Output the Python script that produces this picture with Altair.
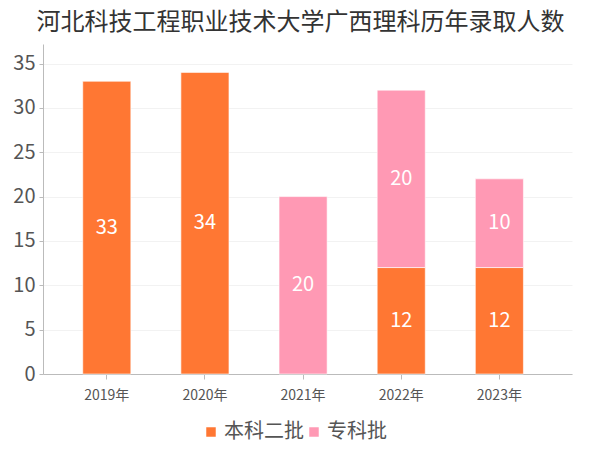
import altair as alt
import pandas as pd

years = ["2019年", "2020年", "2021年", "2022年", "2023年"]
series = ["本科二批", "专科批"]
benke = [33, 34, None, 12, 12]
zhuanke = [None, None, 20, 20, 10]

rows = []
for i, y in enumerate(years):
    for s_i, (name, vals) in enumerate(zip(series, [benke, zhuanke])):
        v = vals[i]
        if v is not None:
            rows.append({"year": y, "batch": name, "value": v, "ord": s_i})
df = pd.DataFrame(rows)

FONT = "Noto Sans CJK SC"
colors = ["#FF7733", "#FF99B4"]

base = alt.Chart(df).transform_stack(
    stack="value", groupby=["year"], as_=["y0", "y1"], sort=[{"field": "ord", "order": "ascending"}]
).transform_calculate(mid="(datum.y0 + datum.y1) / 2")

x_scale = alt.Scale(paddingInner=0.51, paddingOuter=0.45, align=0.45)

x_enc = alt.X("year:N", sort=years, title=None, scale=x_scale,
              axis=alt.Axis(labelAngle=0, labelFontSize=14, labelColor="#555555", labelFont=FONT,
                            domainColor="#bbbbbb", tickColor="#bbbbbb", tickSize=5, labelPadding=9))

bars = base.mark_bar(stroke="#ffffff", strokeWidth=1, strokeOpacity=0.6).encode(
    x=x_enc,
    y=alt.Y("y0:Q", title=None, scale=alt.Scale(domain=[0, 37.2], nice=False),
            axis=alt.Axis(values=[0, 5, 10, 15, 20, 25, 30, 35], labelFontSize=20, labelColor="#555555",
                          labelFont=FONT, domainColor="#bbbbbb", tickColor="#bbbbbb", tickSize=4,
                          gridColor="#f2f2f2", grid=True, labelPadding=4)),
    y2="y1:Q",
    color=alt.Color("batch:N", sort=series, scale=alt.Scale(domain=series, range=colors),
                    legend=alt.Legend(title=None, orient="none", legendX=158, legendY=378, direction="horizontal",
                                      symbolType="square", symbolSize=90, symbolStrokeWidth=0,
                                      labelFontSize=20, labelColor="#555555", labelFont=FONT,
                                      columnPadding=0, labelOffset=3)),
)

labels = base.mark_text(color="white", fontSize=20, font=FONT).encode(
    x=alt.X("year:N", sort=years, scale=x_scale),
    y=alt.Y("mid:Q"),
    text=alt.Text("value:Q"),
)

chart = alt.layer(bars, labels).properties(
    width=529, height=330,
    autosize=alt.AutoSizeParams(type="none"),
    padding={"left": 35, "top": 36, "right": 20, "bottom": 74},
    title=alt.TitleParams("河北科技工程职业技术大学广西理科历年录取人数", fontSize=24, font=FONT,
                          color="#333333", fontWeight="normal", anchor="middle", offset=9, dx=-7),
).configure_view(stroke=None)

chart.save("out.html", embed_options={"renderer": "svg", "actions": False})
